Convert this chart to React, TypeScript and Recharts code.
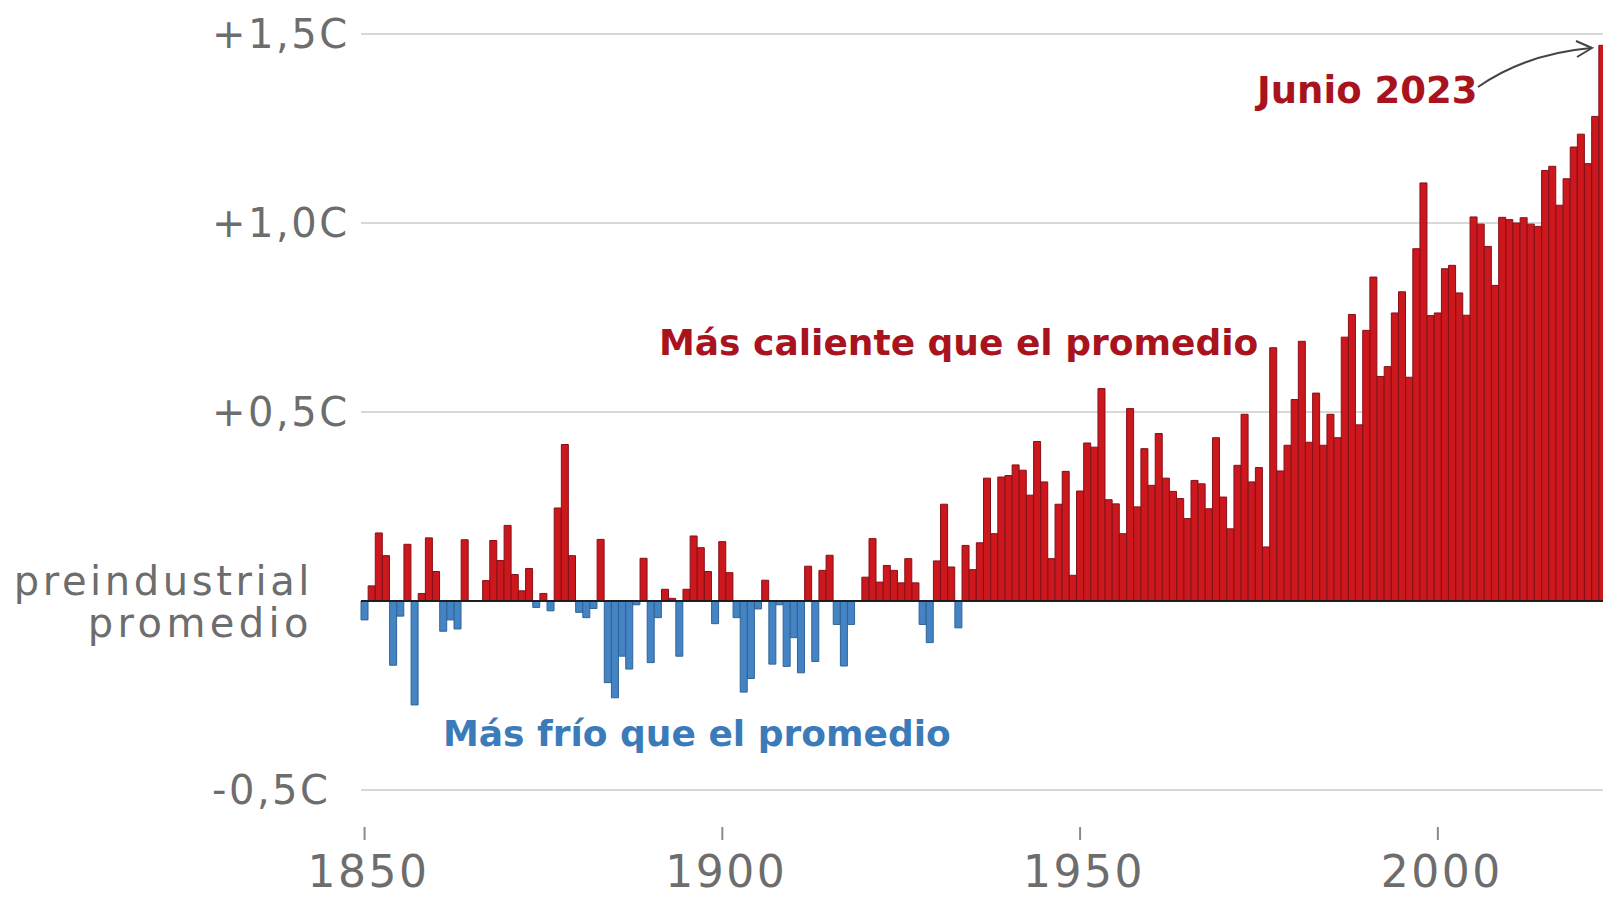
import React from 'react';
import { BarChart, Bar, XAxis, YAxis, CartesianGrid, ReferenceLine, Cell } from 'recharts';

// Anomalía de temperatura (junio) frente al promedio preindustrial, 1850-2023
const startYear = 1850;
const anomalies = [
  -0.05, 0.04, 0.18, 0.12, -0.17, -0.04, 0.15, -0.275, 0.02, 0.167,
  0.078, -0.08, -0.05, -0.074, 0.162, 0, 0, 0.054, 0.16, 0.107,
  0.2, 0.07, 0.027, 0.086, -0.017, 0.02, -0.026, 0.246, 0.414, 0.12,
  -0.03, -0.044, -0.02, 0.163, -0.216, -0.256, -0.146, -0.18, -0.01, 0.113,
  -0.163, -0.044, 0.031, 0.007, -0.146, 0.031, 0.172, 0.141, 0.078, -0.06,
  0.157, 0.075, -0.044, -0.241, -0.205, -0.021, 0.055, -0.167, -0.01, -0.173,
  -0.097, -0.19, 0.092, -0.16, 0.081, 0.121, -0.062, -0.172, -0.062, 0.0,
  0.063, 0.165, 0.05, 0.094, 0.081, 0.048, 0.112, 0.048, -0.062, -0.11,
  0.106, 0.256, 0.09, -0.071, 0.147, 0.083, 0.154, 0.325, 0.178, 0.328,
  0.332, 0.36, 0.346, 0.28, 0.422, 0.315, 0.112, 0.256, 0.343, 0.068,
  0.291, 0.418, 0.407, 0.562, 0.268, 0.257, 0.178, 0.509, 0.249, 0.403,
  0.306, 0.443, 0.325, 0.29, 0.271, 0.218, 0.319, 0.31, 0.244, 0.432,
  0.275, 0.191, 0.359, 0.494, 0.315, 0.353, 0.143, 0.67, 0.344, 0.412,
  0.533, 0.687, 0.42, 0.55, 0.412, 0.494, 0.432, 0.698, 0.758, 0.466,
  0.716, 0.857, 0.594, 0.62, 0.762, 0.818, 0.592, 0.932, 1.106, 0.755,
  0.762, 0.879, 0.888, 0.815, 0.756, 1.016, 0.997, 0.938, 0.835, 1.015,
  1.009, 1.0, 1.014, 0.997, 0.991, 1.139, 1.15, 1.047, 1.117, 1.201,
  1.235, 1.157, 1.282, 1.47
];

const xTicks = [1850, 1900, 1950, 2000];
const yTicks = [-0.5, 0, 0.5, 1, 1.5];
const yTickLabels = ['-0,5C', '', '+0,5C', '+1,0C', '+1,5C'];
const baselineLabel = ['preindustrial', 'promedio'];

const warmLabel = 'Más caliente que el promedio';
const coldLabel = 'Más frío que el promedio';
const peakLabel = 'Junio 2023';

const data = anomalies.map((value, i) => ({ year: startYear + i, value }));

const RED = '#cc171d';
const RED_EDGE = '#86101a';
const BLUE = '#4484c4';
const BLUE_EDGE = '#2f6497';
const GREY_TEXT = '#6d6d6d';
const FONT = '"DejaVu Sans", sans-serif';

const YTick = ({ x, y, payload }: any) => {
  const idx = yTicks.indexOf(payload.value);
  if (payload.value === 0) {
    return (
      <g>
        <text x={x - 48} y={y - 6} textAnchor="end" fill={GREY_TEXT}
          style={{ fontFamily: FONT, fontSize: 40, letterSpacing: 3.6 }}>
          {baselineLabel[0]}
        </text>
        <text x={x - 48} y={y + 36} textAnchor="end" fill={GREY_TEXT}
          style={{ fontFamily: FONT, fontSize: 40, letterSpacing: 4.4 }}>
          {baselineLabel[1]}
        </text>
      </g>
    );
  }
  return (
    <text x={x - 149} y={y + 14} textAnchor="start" fill={GREY_TEXT}
      style={{ fontFamily: FONT, fontSize: 40, letterSpacing: 2.5 }}>
      {yTickLabels[idx]}
    </text>
  );
};

const XTick = ({ x, y, payload }: any) => {
  if (!xTicks.includes(payload.value)) return <g />;
  return (
    <g>
      <line x1={x} x2={x} y1={y + 37} y2={y + 50} stroke="#8a8a8a" strokeWidth={2} />
      <text x={x + 4} y={y + 97} textAnchor="middle" fill={GREY_TEXT}
        style={{ fontFamily: FONT, fontSize: 44, letterSpacing: 2.5 }}>
        {payload.value}
      </text>
    </g>
  );
};

export default function App() {
  return (
    <div style={{
      position: 'absolute', left: 0, top: 0, width: 1603, height: 897,
      overflow: 'hidden', background: '#fff'
    }}>
      <BarChart
        width={1606}
        height={897}
        data={data}
        margin={{ top: 34, right: 0, bottom: 0, left: 0 }}
        barCategoryGap={0}
        barGap={0}
      >
        <CartesianGrid vertical={false} stroke="#d8d8d8" strokeWidth={2} />
        <XAxis
          dataKey="year"
          interval={0}
          height={107}
          axisLine={false}
          tickLine={false}
          tickSize={0}
          tickMargin={0}
          tick={<XTick />}
        />
        <YAxis
          type="number"
          domain={[-0.5, 1.5]}
          ticks={yTicks}
          width={361}
          axisLine={false}
          tickLine={false}
          tickSize={0}
          tickMargin={0}
          tick={<YTick />}
        />
        <Bar dataKey="value" isAnimationActive={false} strokeWidth={1}>
          {data.map((d) => (
            <Cell key={d.year} fill={d.value >= 0 ? RED : BLUE} stroke={d.value >= 0 ? RED_EDGE : BLUE_EDGE} />
          ))}
        </Bar>
        <ReferenceLine y={0} stroke="#1e1e1e" strokeWidth={2} />
      </BarChart>
      <svg width={1603} height={897} style={{ position: 'absolute', left: 0, top: 0, pointerEvents: 'none' }}>
        <text x={659} y={355} fill="#a8131e" style={{ fontFamily: FONT, fontSize: 36, fontWeight: 'bold' }}>
          {warmLabel}
        </text>
        <text x={443} y={746} fill="#3b7bb9" style={{ fontFamily: FONT, fontSize: 36, fontWeight: 'bold' }}>
          {coldLabel}
        </text>
        <text x={1257} y={103} fill="#a8131e" style={{ fontFamily: FONT, fontSize: 37, fontWeight: 'bold' }}>
          {peakLabel}
        </text>
        <path d="M1478,87 Q1525,54 1591,48" fill="none" stroke="#444" strokeWidth={2} />
        <path d="M1576,41 L1592,48 L1577,57" fill="none" stroke="#444" strokeWidth={2} />
      </svg>
    </div>
  );
}
